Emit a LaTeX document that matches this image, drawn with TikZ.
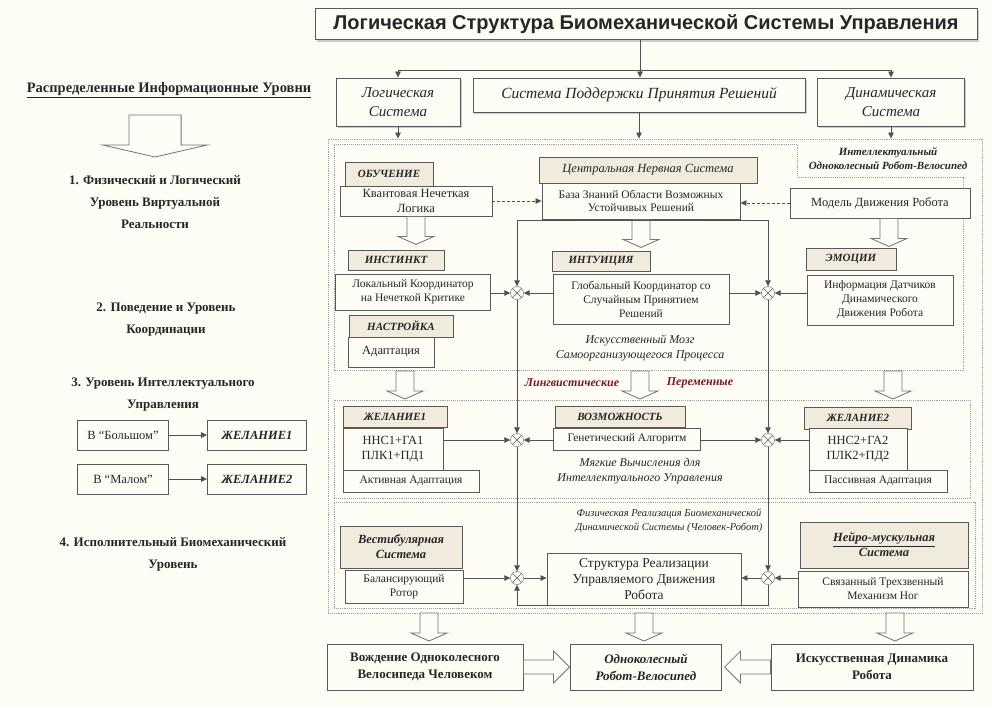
\documentclass[tikz,border=0pt]{standalone}
\usepackage{fontspec}
\setmainfont{Liberation Serif}
\setsansfont{Liberation Sans}
\usetikzlibrary{arrows.meta,calc,positioning,shadows}

\definecolor{bgcol}{RGB}{253,253,245}
\definecolor{hdrcol}{RGB}{241,235,222}
\definecolor{lingred}{RGB}{125,22,32}
\definecolor{linecol}{RGB}{80,80,80}

\newcommand\boxfont{\fontsize{12.5}{14.5}\selectfont}
\newcommand\hdrfont{\fontsize{11}{13}\selectfont\bfseries\itshape}
\newcommand\levfont{\fontsize{13}{22}\selectfont\bfseries}
\newcommand\titlefont{\fontsize{20}{22}\selectfont\sffamily\bfseries}
\newcommand\notefont{\fontsize{12}{15}\selectfont\itshape}

\tikzset{
  pics/hollowdown/.style={code={
    \draw[hollowline] (-9,0) -- (9,0) -- (9,20) -- (18,20) -- (0,28) -- (-18,20) -- (-9,20) -- cycle;}},
  pics/hollowright/.style={code={
    \draw[hollowline] (0,-7) -- (30,-7) -- (30,-16) -- (46,0) -- (30,16) -- (30,7) -- (0,7) -- cycle;}},
}

\begin{document}
\begin{tikzpicture}[
    x=1pt, y=-1pt,
    every node/.style={text=black!85},
    box/.style={draw=black!65, line width=0.9pt, fill=bgcol, align=center, inner sep=1pt, font=\boxfont},
    hdr/.style={box, fill=hdrcol, font=\hdrfont},
    topbox/.style={box, font=\fontsize{15}{19}\selectfont\itshape,
      drop shadow={shadow xshift=1.5pt, shadow yshift=-1.5pt, fill=black!40}},
    txt/.style={align=center, inner sep=0pt},
    sumnode/.style={circle, draw=black!65, fill=bgcol, minimum size=13pt, inner sep=0pt,
      path picture={\draw[black!65] (path picture bounding box.north west) -- (path picture bounding box.south east)
        (path picture bounding box.north east) -- (path picture bounding box.south west);}},
    arr/.style={-{Triangle[length=6pt, width=5.5pt]}, linecol, line width=0.7pt},
    darr/.style={arr, densely dashed},
    dotframe/.style={draw=gray!75, line width=0.9pt, densely dotted},
    hollowline/.style={draw=black!55, fill=bgcol, line width=0.8pt},
  ]

  \fill[bgcol] (0,0) rectangle (992,707);
  \useasboundingbox (0,0) rectangle (992,707);

  % ── Frames ───────────────────────────────────────────────────────────────
  \node[dotframe, minimum width=654pt, minimum height=474pt] (outer) at (655,376) {};
  \draw[dotframe] (334,144) -- (797,144) -- (797,177) -- (963,177) -- (963,370) -- (334,370) -- cycle;
  \node[dotframe, minimum width=636pt, minimum height=98pt] (lvlthree) at (652,449) {};
  \node[dotframe, minimum width=641pt, minimum height=106pt] (lvlfour) at (654.5,555) {};

  % ── Left column ──────────────────────────────────────────────────────────
  \node[txt, font=\fontsize{14.5}{16}\selectfont\bfseries] (levtitle) at (169,90)
    {\underline{Распределенные Информационные Уровни}};
  \pic[xscale=2.9, yscale=1.5] at (155,115) {hollowdown};
  \node[txt, font=\levfont] (levone)   at (155,202) {1. Физический и Логический\\Уровень Виртуальной\\Реальности};
  \node[txt, font=\levfont] (levtwo)   at (166,320) {2. Поведение и Уровень\\Координации};
  \node[txt, font=\levfont] (levthree) at (163,395) {3. Уровень Интеллектуального\\Управления};
  \node[txt, font=\levfont] (levfour)  at (173,554) {4. Исполнительный Биомеханический\\Уровень};

  \node[box, minimum width=91pt, minimum height=30pt] (large) at (123,435) {В “Большом”};
  \node[box, minimum width=99pt, minimum height=30pt, font=\boxfont\bfseries\itshape] (wishL) at (257,435) {ЖЕЛАНИЕ1};
  \node[box, minimum width=91pt, minimum height=30pt] (small) at (123,479) {В “Малом”};
  \node[box, minimum width=99pt, minimum height=30pt, font=\boxfont\bfseries\itshape] (wishS) at (257,479) {ЖЕЛАНИЕ2};
  \draw[arr] (large) -- (wishL);
  \draw[arr] (small) -- (wishS);

  % ── Top level ────────────────────────────────────────────────────────────
  \node[box, font=\titlefont, minimum width=662pt, minimum height=31pt, line width=1pt,
    drop shadow={shadow xshift=2pt, shadow yshift=-2pt, fill=black!40}] (title) at (646,24)
    {Логическая Структура Биомеханической Системы Управления};
  \node[topbox, minimum width=124pt, minimum height=48pt] (logic)   at (398,102) {Логическая\\Система};
  \node[topbox, minimum width=332pt, minimum height=34pt, font=\fontsize{15.5}{19}\selectfont\itshape]
    (support) at (639,95) {Система Поддержки Принятия Решений};
  \node[topbox, minimum width=147pt, minimum height=48pt] (dynamic) at (891,102) {Динамическая\\Система};

  \coordinate (hub) at (640,70);
  \draw[arr] (hub |- title.south) -- (hub |- support.north);
  \draw[arr] (hub) -| (logic.north);
  \draw[arr] (hub) -| (dynamic.north);
  \draw[arr] (logic.south)   -- (logic.south |- outer.north);
  \draw[arr] (support.south) -- (support.south |- outer.north);
  \draw[arr] (dynamic.south) -- (dynamic.south |- outer.north);

  % ── Level 1 / 2 ──────────────────────────────────────────────────────────
  \node[txt, font=\fontsize{11}{14}\selectfont\itshape\bfseries] (bike) at (888,159)
    {Интеллектуальный\\Одноколесный Робот-Велосипед};

  \node[hdr, minimum width=88pt, minimum height=24pt] (learn) at (389,174) {ОБУЧЕНИЕ};
  \node[box, minimum width=152pt, minimum height=30pt] (quantum) at (416,201) {Квантовая Нечеткая\\Логика};
  \node[hdr, minimum width=218pt, minimum height=26pt, font=\fontsize{12.5}{14}\selectfont\itshape] (cns) at (648,170)
    {Центральная Нервная Система};
  \node[box, minimum width=198pt, minimum height=36pt, font=\fontsize{11.5}{13.5}\selectfont] (kb) at (641,201)
    {База Знаний Области Возможных\\Устойчивых Решений};
  \node[box, minimum width=180pt, minimum height=30pt] (model) at (880,203) {Модель Движения Робота};

  \draw[darr] (quantum.east) -- (kb.west |- quantum.east);
  \draw[darr] (model.west) -- (kb.east |- model.west);
  \pic at (quantum.south) {hollowdown};
  \pic at (kb.south) {hollowdown};
  \pic at ($(model.south)+(9,0)$) {hollowdown};

  \node[hdr, minimum width=96pt, minimum height=20pt] (instinct) at (396,260) {ИНСТИНКТ};
  \node[box, minimum width=155pt, minimum height=36pt, font=\fontsize{11.5}{13.5}\selectfont] (lc) at (413,292)
    {Локальный Координатор\\на Нечеткой Критике};
  \node[hdr, minimum width=104pt, minimum height=22pt] (tune) at (401,326) {НАСТРОЙКА};
  \node[box, minimum width=86pt, minimum height=30pt] (adapt) at (391,352) {Адаптация};

  \node[hdr, minimum width=98pt, minimum height=20pt] (intuition) at (601,261) {ИНТУИЦИЯ};
  \node[box, minimum width=176pt, minimum height=50pt, font=\fontsize{11.5}{14}\selectfont] (gc) at (641,299)
    {Глобальный Координатор со\\Случайным Принятием\\Решений};
  \node[hdr, minimum width=90pt, minimum height=22pt] (emotion) at (851,259) {ЭМОЦИИ};
  \node[box, minimum width=146pt, minimum height=50pt, font=\fontsize{11.5}{14}\selectfont] (info) at (880,300)
    {Информация Датчиков\\Динамического\\Движения Робота};
  \node[txt, font=\notefont] (brain) at (640,348) {Искусственный Мозг\\Самоорганизующегося Процесса};

  % ── Linguistic variables ─────────────────────────────────────────────────
  \pic at (405,371) {hollowdown};
  \pic at (640,371) {hollowdown};
  \pic at (893,371) {hollowdown};
  \node[txt, font=\fontsize{12}{14}\selectfont\bfseries\itshape, text=lingred] (lingA) at (572,383) {Лингвистические};
  \node[txt, font=\fontsize{12}{14}\selectfont\bfseries\itshape, text=lingred] (lingB) at (700,383) {Переменные};

  % ── Level 3 ──────────────────────────────────────────────────────────────
  \node[hdr, minimum width=104pt, minimum height=21pt] (wishA) at (395,417) {ЖЕЛАНИЕ1};
  \node[box, minimum width=100pt, minimum height=42pt] (nnsA) at (393,449) {ННС1+ГА1\\ПЛК1+ПД1};
  \node[box, minimum width=136pt, minimum height=22pt, font=\fontsize{11.5}{13}\selectfont] (active) at (411,481) {Активная Адаптация};
  \node[hdr, minimum width=130pt, minimum height=21pt] (poss) at (620,417) {ВОЗМОЖНОСТЬ};
  \node[box, minimum width=147pt, minimum height=22pt, font=\fontsize{11.5}{13}\selectfont] (ga) at (627,439) {Генетический Алгоритм};
  \node[txt, font=\notefont] (soft) at (640,471) {Мягкие Вычисления для\\Интеллектуального Управления};
  \node[hdr, minimum width=107pt, minimum height=22pt] (wishB) at (858,418) {ЖЕЛАНИЕ2};
  \node[box, minimum width=98pt, minimum height=42pt] (nnsB) at (858,449) {ННС2+ГА2\\ПЛК2+ПД2};
  \node[box, minimum width=138pt, minimum height=22pt, font=\fontsize{11.5}{13}\selectfont] (passive) at (878,481) {Пассивная Адаптация};

  % ── Level 4 ──────────────────────────────────────────────────────────────
  \node[txt, font=\fontsize{10.5}{14.5}\selectfont\itshape] (phys) at (669,521)
    {Физическая Реализация Биомеханической\\Динамической Системы (Человек-Робот)};
  \node[box, fill=hdrcol, minimum width=122pt, minimum height=42pt, font=\fontsize{12.5}{15}\selectfont\itshape\bfseries] (vest) at (401,547)
    {Вестибулярная\\Система};
  \node[box, minimum width=118pt, minimum height=33pt, font=\fontsize{11.5}{14}\selectfont] (rotor) at (404,587)
    {Балансирующий\\Ротор};
  \node[box, minimum width=194pt, minimum height=52pt, font=\fontsize{13.5}{16}\selectfont] (struct) at (644,579)
    {Структура Реализации\\Управляемого Движения\\Робота};
  \node[box, fill=hdrcol, minimum width=168pt, minimum height=46pt, font=\fontsize{12.5}{15}\selectfont\itshape\bfseries] (neuro) at (884,545)
    {\underline{Нейро-мускульная}\\Система};
  \node[box, minimum width=170pt, minimum height=36pt, font=\fontsize{11.5}{14}\selectfont] (legs) at (883,589)
    {Связанный Трехзвенный\\Механизм Ног};

  % ── Summing junctions ────────────────────────────────────────────────────
  \coordinate (busL) at (517,220);
  \coordinate (busR) at (768,220);
  \node[sumnode] (sA) at (517,293) {};
  \node[sumnode] (sB) at (768,293) {};
  \node[sumnode] (sC) at (517,440) {};
  \node[sumnode] (sD) at (768,440) {};
  \node[sumnode] (sE) at (517,578) {};
  \node[sumnode] (sF) at (768,578) {};

  \draw[linecol, line width=0.7pt] (busL) -- (busR);
  \draw[arr] (busL) -- (sA);
  \draw[arr] (sA) -- (sC);
  \draw[arr] (sC) -- (sE);
  \draw[arr] (busR) -- (sB);
  \draw[arr] (sB) -- (sD);
  \draw[arr] (sD) -- (sF);

  \draw[arr] (lc.east |- sA)   -- (sA);
  \draw[arr] (gc.west |- sA)   -- (sA);
  \draw[arr] (gc.east |- sB)   -- (sB);
  \draw[arr] (info.west |- sB) -- (sB);
  \draw[arr] (nnsA.east |- sC) -- (sC);
  \draw[arr] (ga.west |- sC)   -- (sC);
  \draw[arr] (ga.east |- sD)   -- (sD);
  \draw[arr] (nnsB.west |- sD) -- (sD);
  \draw[arr] (rotor.east |- sE) -- (sE);
  \draw[arr] (sE) -- (struct.west |- sE);
  \draw[arr] (legs.west |- sF) -- (sF);
  \draw[arr] (sF) -- (struct.east |- sF);
  \coordinate (loopR) at (768,605);
  \draw[arr] (sF) -- (loopR) -| (sE);

  % ── Bottom ───────────────────────────────────────────────────────────────
  \pic at (429,613) {hollowdown};
  \pic at (644,613) {hollowdown};
  \pic at (895,613) {hollowdown};
  \node[box, minimum width=196pt, minimum height=46pt, font=\fontsize{13}{17}\selectfont\bfseries] (drive) at (425,667)
    {Вождение Одноколесного\\Велосипеда Человеком};
  \node[box, minimum width=151pt, minimum height=46pt, font=\fontsize{13}{17}\selectfont\bfseries\itshape] (robot) at (646,667)
    {Одноколесный\\Робот-Велосипед};
  \node[box, minimum width=202pt, minimum height=46pt, font=\fontsize{13}{17}\selectfont\bfseries] (artdyn) at (872,667)
    {Искусственная Динамика\\Робота};
  \pic at (drive.east) {hollowright};
  \pic[xscale=-1] at (artdyn.west) {hollowright};

\end{tikzpicture}
\end{document}
